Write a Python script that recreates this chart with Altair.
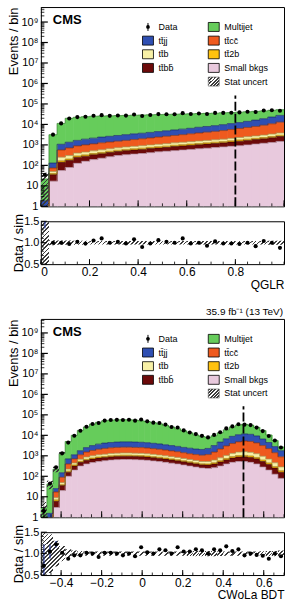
import numpy as np
import pandas as pd
import altair as alt

FONT = "Liberation Sans"
W = 244                      # plot width of every panel
H_TOP, H_BOT, H_RAT = 200, 199, 43
FLOOR = 0.5                  # lowest value drawn on the log axes

# processes in stacking order, bottom to top
STACK = ["small", "ttbb", "tt2b", "ttb", "ttcc", "ttjj", "multijet"]
FILL = {"small": "#e8c9dd", "ttbb": "#6c0a0a", "tt2b": "#ffc20f", "ttb": "#f7f0a6",
        "ttcc": "#ef5a1e", "ttjj": "#2f4fb2", "multijet": "#66cc5b"}
EDGE = {"small": "#b898ad", "ttbb": "#3a0000", "tt2b": "#9c7400", "ttb": "#a39a55",
        "ttcc": "#8c2e08", "ttjj": "#17276b", "multijet": "#2f7a2a"}
NAMES = {"small": "Small bkgs", "ttbb": "tt\u0304bb\u0304", "tt2b": "tt\u03042b",
         "ttb": "tt\u0304b", "ttcc": "tt\u0304cc\u0304", "ttjj": "tt\u0304jj",
         "multijet": "Multijet"}

# ---------------- QGLR: 30 bins on [0, 1] ----------------
qglr_edges = np.linspace(0.0, 1.0, 31)
qglr_small = [0.3, 17, 56, 79, 126, 158, 191, 224, 263, 302, 331, 355, 380, 417, 457,
              490, 525, 562, 603, 646, 692, 741, 794, 851, 912, 1000, 1096, 1202, 1318, 1479]
qglr_ttbb = [0.1, 18, 85, 99, 125, 124, 140, 148, 164, 177, 194, 207, 223, 244, 251,
             269, 307, 329, 352, 377, 404, 434, 465, 529, 602, 660, 724, 793, 921, 1091]
qglr_tt2b = [0.05, 5, 25, 26, 37, 42, 49, 55, 63, 71, 78, 84, 89, 98, 105,
             112, 123, 132, 141, 152, 163, 174, 186, 205, 224, 245, 269, 296, 331, 381]
qglr_ttb = [0.1, 10, 85, 98, 110, 123, 133, 148, 156, 174, 191, 205, 220, 241, 259,
            277, 304, 326, 349, 374, 401, 429, 460, 504, 553, 607, 665, 729, 818, 880]
qglr_ttcc = [0.3, 24, 311, 406, 493, 553, 609, 684, 734, 790, 866, 969, 1083, 1188, 1327,
             1482, 1625, 1813, 2022, 2253, 2509, 2793, 3107, 3534, 4019, 4567, 5189, 6100, 7332, 9050]
qglr_ttjj = [1.0, 56, 510, 641, 769, 905, 1016, 1140, 1250, 1370, 1502, 1647, 1720, 1886, 2068,
             2268, 2486, 2726, 2990, 3442, 3774, 4139, 4760, 5337, 5990, 7051, 8277, 9930, 12190, 14660]
qglr_multijet = [20, 3030, 10150, 18600, 20730, 22090, 22980, 23300, 23670, 24040, 24380, 24710,
                 25120, 25440, 25730, 26000, 26250, 26470, 26650, 26640, 26730, 26770, 27380,
                 27060, 27510, 27560, 27430, 26660, 26070, 24940]
qglr_data = [35, 3160, 11220, 19350, 22840, 23510, 26380, 28270, 26300, 27460, 26990, 30430,
             25960, 28920, 32010, 31520, 31620, 35600, 32450, 33880, 32240, 36540, 36410,
             37260, 38620, 41690, 40160, 47540, 48980, 46180]
qglr_stat = [1.0, 0.06, 0.05, 0.05, 0.045, 0.045, 0.04, 0.04, 0.04, 0.04, 0.04, 0.04, 0.04, 0.04,
             0.04, 0.04, 0.04, 0.04, 0.04, 0.04, 0.04, 0.04, 0.04, 0.04, 0.04, 0.04, 0.04, 0.04,
             0.045, 0.045]
qglr_cut = 0.8

# ---------------- CWoLa BDT: 40 bins on [-0.5, 0.7] ----------------
bdt_edges = np.linspace(-0.5, 0.7, 41)
bdt_small = [0, 0.2, 3, 20, 100, 200, 316, 398, 468, 525, 575, 617, 646, 661, 661, 646, 631, 603,
             562, 525, 479, 437, 398, 355, 316, 282, 251, 240, 263, 316, 398, 479, 525, 525, 479,
             398, 282, 200, 126, 79]
bdt_ttbb = [0, 0.2, 3, 15, 58, 116, 163, 205, 224, 251, 257, 274, 287, 294, 294, 287, 281, 268,
            251, 234, 213, 194, 177, 158, 141, 125, 112, 115, 135, 185, 233, 297, 346, 366, 353,
            310, 243, 180, 125, 79]
bdt_tt2b = [0, 0.05, 1, 4, 20, 39, 58, 73, 84, 95, 101, 109, 114, 117, 117, 114, 111, 106, 99, 92,
            84, 77, 71, 62, 56, 50, 44, 43, 59, 74, 110, 136, 152, 156, 145, 124, 92, 67, 44, 28]
bdt_ttb = [0, 0.1, 2, 10, 46, 92, 139, 195, 224, 251, 269, 288, 302, 308, 308, 302, 295, 282, 263,
           245, 224, 204, 186, 166, 148, 132, 118, 127, 160, 219, 306, 406, 491, 538, 502, 427,
           338, 245, 162, 102]
bdt_ttcc = [0, 0.4, 8, 40, 174, 261, 446, 643, 820, 967, 1089, 1167, 1221, 1250, 1250, 1221, 1194,
            1140, 1064, 993, 905, 826, 753, 672, 598, 559, 547, 623, 897, 1344, 1973, 2663, 3272,
            3663, 3533, 3007, 2207, 1547, 956, 603]
bdt_ttjj = [0.2, 0.6, 8, 60, 310, 414, 656, 998, 1342, 1626, 1878, 2012, 2107, 2156, 2156, 2107,
            2059, 1966, 1835, 1713, 1562, 1424, 1299, 1157, 1085, 990, 970, 1143, 1648, 2539,
            3741, 4932, 5934, 6502, 6208, 5067, 3445, 2228, 1405, 887]
bdt_multijet = [2.6, 40.5, 199, 1141, 4302, 8878, 15600, 23190, 32320, 39940, 47120, 50480, 52210,
                53420, 52750, 50910, 46720, 42400, 37620, 32510, 27430, 22540, 18010, 14030,
                10840, 8332, 6668, 5652, 6388, 8503, 11860, 16790, 20900, 22920, 20400, 15220,
                10370, 6003, 2805, 914]
bdt_data = [2.0, 44, 273, 1316, 4409, 9600, 16680, 26210, 35480, 40160, 52320, 56050, 56890, 55880,
            57540, 52250, 58980, 48170, 41690, 39940, 33370, 25700, 24020, 17430, 13840, 11520,
            9407, 7943, 10500, 14230, 21790, 27240, 34780, 33280, 31620, 23810, 16130, 9214,
            5623, 2530]
bdt_stat = [1.0, 0.45, 0.3, 0.18, 0.1, 0.07, 0.06, 0.05, 0.05, 0.05, 0.05, 0.05, 0.05, 0.05, 0.05,
            0.05, 0.05, 0.05, 0.05, 0.05, 0.05, 0.05, 0.05, 0.05, 0.055, 0.06, 0.06, 0.06, 0.06,
            0.055, 0.05, 0.05, 0.05, 0.05, 0.05, 0.05, 0.055, 0.06, 0.06, 0.07]
bdt_cut = 0.5

LUMI = "35.9 fb\u207b\u00b9 (13 TeV)"
POW_LABELS = ["1", "10", "10\u00b2", "10\u00b3", "10\u2074", "10\u2075", "10\u2076",
              "10\u2077", "10\u2078", "10\u2079"]

one = pd.DataFrame({"k": [0]})


def hatch(w, h, period=3.0, duty=0.4, color="#3c3c3c"):
    """Diagonal '////' hatching for a w x h pixel box, as a striped linear gradient."""
    n = max(2, int(round((w + h) / (1.4142 * period))))
    lam = (w + h) / (w * w + h * h)
    clear = "rgba(255,255,255,0)"
    stops = []
    for k in range(n):
        a, b, e = k / n, (k + duty) / n, (k + 1) / n
        stops += [{"offset": a, "color": color}, {"offset": b, "color": color},
                  {"offset": b, "color": clear}, {"offset": e, "color": clear}]
    return {"gradient": "linear", "stops": stops, "x1": 0, "y1": 0,
            "x2": lam * w, "y2": lam * h}


def main_panel(edges, comps, data, stat, cut, xmajor, height, lumi):
    xdom = [float(edges[0]), float(edges[-1])]
    ymax = 10 ** (height / 20.55)
    ppd = height / np.log10(ymax)
    xs = alt.Scale(domain=xdom, nice=False, zero=False)
    ys = alt.Scale(type="log", domain=[1, ymax], nice=False)
    expr = "".join(f"datum.value < {3 * 10 ** k} ? '{lab}' : "
                   for k, lab in enumerate(POW_LABELS[:-1])) + f"'{POW_LABELS[-1]}'"
    yax = alt.Axis(values=[10 ** k for k in range(10)], labelExpr=expr, ticks=False,
                   domain=False, grid=False, labelFontSize=11, labelPadding=3, labelFont=FONT,
                   title="Events / bin", titleFont=FONT, titleFontSize=13,
                   titleFontWeight="normal", titleAnchor="end", titleX=-20)

    def X(f):
        return alt.X(f"{f}:Q", scale=xs, axis=None)

    def Y(f):
        return alt.Y(f"{f}:Q", scale=ys, axis=yax)

    centers = 0.5 * (edges[:-1] + edges[1:])
    nb = len(centers)
    seam = 0.6 * (xdom[1] - xdom[0]) / W   # small overlap so neighbouring bins join cleanly
    rects, steps = [], []
    cum = np.zeros(nb)
    for p in STACK:
        top = cum + np.asarray(comps[p], float)
        for i in range(nb):
            rects.append(dict(proc=p, x0=edges[i], x1=edges[i + 1] + seam,
                              y0=max(cum[i], FLOOR), y1=max(top[i], FLOOR)))
        for i in range(nb + 1):
            j = min(i, nb - 1)
            steps.append(dict(proc=p, x=edges[i], y1=max(top[j], FLOOR), o=i))
        cum = top
    total = cum

    fill_scale = alt.Scale(domain=STACK, range=[FILL[p] for p in STACK])
    edge_scale = alt.Scale(domain=STACK, range=[EDGE[p] for p in STACK])
    layers = [
        alt.Chart(pd.DataFrame(rects)).mark_rect(clip=True).encode(
            x=X("x0"), x2="x1", y=Y("y0"), y2="y1",
            fill=alt.Fill("proc:N", scale=fill_scale, legend=None)),
        alt.Chart(pd.DataFrame(steps)).mark_line(interpolate="step-after", strokeWidth=0.7,
                                                 clip=True).encode(
            x=X("x"), y=Y("y1"), order="o:Q",
            stroke=alt.Stroke("proc:N", scale=edge_scale, legend=None)),
    ]

    # MC statistical uncertainty, visible only where it is large
    bw = W / nb
    for i, u in enumerate(stat):
        if u < 0.15:
            continue
        lo, hi = max(total[i] * (1 - u), 1.0), total[i] * (1 + u)
        hpx = max((np.log10(hi) - np.log10(lo)) * ppd, 1.0)
        band = pd.DataFrame({"x0": [edges[i]], "x1": [edges[i + 1]], "lo": [lo], "hi": [hi]})
        layers.append(alt.Chart(band).mark_rect(fill=hatch(bw, hpx), clip=True).encode(
            x=X("x0"), x2="x1", y=Y("lo"), y2="hi"))

    # selection cut
    layers.append(alt.Chart(pd.DataFrame({"x": [cut], "a": [1.0], "b": [2.6e5]})).mark_rule(
        color="black", strokeWidth=1.8, strokeDash=[9, 3]).encode(x=X("x"), y=Y("a"), y2="b"))

    d = np.asarray(data, float)
    pts = pd.DataFrame({"x": centers, "y": d, "lo": np.maximum(d - np.sqrt(d), FLOOR),
                        "hi": d + np.sqrt(d)})
    layers.append(alt.Chart(pts).mark_rule(color="black", strokeWidth=1, clip=True).encode(
        x=X("x"), y=Y("lo"), y2="hi"))
    layers.append(alt.Chart(pts).mark_point(filled=True, size=17, color="black", opacity=1,
                                            clip=True).encode(x=X("x"), y=Y("y")))

    # inward ticks
    ymaj = pd.DataFrame({"v": [10 ** k for k in range(10)]})
    ymin = pd.DataFrame({"v": [m * 10 ** k for k in range(10) for m in range(2, 10)
                               if m * 10 ** k < ymax]})
    xmaj = pd.DataFrame({"v": xmajor})
    xmin = pd.DataFrame({"v": np.round(np.arange(xdom[0], xdom[1] + 1e-9, 0.05), 3)})
    layers += [
        alt.Chart(ymaj).mark_rule(color="black", strokeWidth=1.2).encode(
            y=Y("v"), x=alt.value(0), x2=alt.value(7)),
        alt.Chart(ymin).mark_rule(color="black", strokeWidth=0.8).encode(
            y=Y("v"), x=alt.value(0), x2=alt.value(3.5)),
        alt.Chart(xmaj).mark_rule(color="black", strokeWidth=1).encode(
            x=X("v"), y=alt.value(height), y2=alt.value(height - 6)),
        alt.Chart(xmin).mark_rule(color="black", strokeWidth=0.8).encode(
            x=X("v"), y=alt.value(height), y2=alt.value(height - 3)),
    ]

    layers.append(alt.Chart(one).mark_text(text="CMS", font=FONT, fontSize=13, fontWeight="bold",
                                           align="left", baseline="middle").encode(
        x=alt.value(12), y=alt.value(13.5)))
    if lumi:
        layers.append(alt.Chart(one).mark_text(text=lumi, font=FONT, fontSize=10, align="right",
                                               baseline="middle").encode(
            x=alt.value(W - 1), y=alt.value(-6.5)))

    # legend: two columns
    rows = [20, 33.7, 47.4, 61.1, 74.8]
    sw_x, tx_x = [102, 168], [118, 184]
    entries = [("data", 0, 0), ("multijet", 1, 0), ("ttjj", 0, 1), ("ttcc", 1, 1),
               ("ttb", 0, 2), ("tt2b", 1, 2), ("ttbb", 0, 3), ("small", 1, 3), ("stat", 1, 4)]
    for key, c, r in entries:
        yc = rows[r]
        if key == "data":
            layers.append(alt.Chart(one).mark_rule(color="black", strokeWidth=1).encode(
                x=alt.value(sw_x[c] + 5.5), y=alt.value(yc - 4), y2=alt.value(yc + 4)))
            layers.append(alt.Chart(one).mark_point(filled=True, size=14, color="black",
                                                    opacity=1).encode(
                x=alt.value(sw_x[c] + 5.5), y=alt.value(yc)))
            label = "Data"
        elif key == "stat":
            layers.append(alt.Chart(one).mark_rect(fill=hatch(11, 9, period=2.2, duty=0.55),
                                                   stroke="#555555", strokeWidth=0.6).encode(
                x=alt.value(sw_x[c]), x2=alt.value(sw_x[c] + 11),
                y=alt.value(yc - 4.5), y2=alt.value(yc + 4.5)))
            label = "Stat uncert"
        else:
            layers.append(alt.Chart(one).mark_rect(fill=FILL[key], stroke="black",
                                                   strokeWidth=0.8).encode(
                x=alt.value(sw_x[c]), x2=alt.value(sw_x[c] + 11),
                y=alt.value(yc - 4.5), y2=alt.value(yc + 4.5)))
            label = NAMES[key]
        layers.append(alt.Chart(one).mark_text(text=label, font=FONT, fontSize=9, align="left",
                                               baseline="middle").encode(
            x=alt.value(tx_x[c]), y=alt.value(yc)))

    return alt.layer(*layers).properties(width=W, height=height), total


def ratio_panel(edges, data, total, stat, xmajor, xtitle):
    xdom = [float(edges[0]), float(edges[-1])]
    xs = alt.Scale(domain=xdom, nice=False, zero=False)
    ys = alt.Scale(domain=[0.5, 1.5], nice=False, zero=False)
    xax = alt.Axis(values=xmajor, labelExpr="datum.value == 0 ? '0' : format(datum.value, '.1f')",
                   ticks=False, domain=False, grid=False, labelFontSize=12, labelFont=FONT,
                   labelPadding=2, title=xtitle, titleFont=FONT, titleFontSize=12,
                   titleFontWeight="normal", titleAnchor="end", titlePadding=2)
    yax = alt.Axis(values=[0.5, 1.0, 1.5], format=".1f", ticks=False, domain=False, grid=False,
                   labelFontSize=11, labelFont=FONT, labelPadding=2, title="Data / sim",
                   titleFont=FONT, titleFontSize=13, titleFontWeight="normal", titleX=-15)

    def X(f):
        return alt.X(f"{f}:Q", scale=xs, axis=xax)

    def Y(f):
        return alt.Y(f"{f}:Q", scale=ys, axis=yax)

    centers = 0.5 * (edges[:-1] + edges[1:])
    bw = W / (len(edges) - 1)
    layers = []
    u = np.minimum(np.asarray(stat, float), 0.5)
    for val in sorted(set(u.tolist())):
        idx = np.where(u == val)[0]
        band = pd.DataFrame({"x0": edges[idx], "x1": edges[idx + 1],
                             "lo": 1 - u[idx], "hi": 1 + u[idx]})
        layers.append(alt.Chart(band).mark_rect(fill=hatch(bw, 2 * val * H_RAT), clip=True).encode(
            x=X("x0"), x2="x1", y=Y("lo"), y2="hi"))

    d = np.asarray(data, float)
    r = d / total
    e = r / np.sqrt(d)
    pts = pd.DataFrame({"x": centers, "r": r, "lo": r - e, "hi": r + e})
    layers.append(alt.Chart(pts).mark_rule(color="#2b3d9c", strokeWidth=1.2, clip=True).encode(
        x=X("x"), y=Y("lo"), y2="hi"))
    layers.append(alt.Chart(pts).mark_point(filled=True, size=17, color="black", opacity=1,
                                            clip=True).encode(x=X("x"), y=Y("r")))

    ymaj = pd.DataFrame({"v": [0.5, 1.0, 1.5]})
    ymin = pd.DataFrame({"v": np.round(np.arange(0.6, 1.45, 0.1), 2)})
    xmaj = pd.DataFrame({"v": xmajor})
    xmin = pd.DataFrame({"v": np.round(np.arange(xdom[0], xdom[1] + 1e-9, 0.05), 3)})
    layers += [
        alt.Chart(ymaj).mark_rule(color="black", strokeWidth=1).encode(
            y=Y("v"), x=alt.value(0), x2=alt.value(6)),
        alt.Chart(ymin).mark_rule(color="black", strokeWidth=0.8).encode(
            y=Y("v"), x=alt.value(0), x2=alt.value(3)),
        alt.Chart(xmaj).mark_rule(color="black", strokeWidth=1).encode(
            x=X("v"), y=alt.value(H_RAT), y2=alt.value(H_RAT - 5)),
        alt.Chart(xmin).mark_rule(color="black", strokeWidth=0.8).encode(
            x=X("v"), y=alt.value(H_RAT), y2=alt.value(H_RAT - 2.5)),
    ]
    return alt.layer(*layers).properties(width=W, height=H_RAT)


q_comps = {"small": qglr_small, "ttbb": qglr_ttbb, "tt2b": qglr_tt2b, "ttb": qglr_ttb,
           "ttcc": qglr_ttcc, "ttjj": qglr_ttjj, "multijet": qglr_multijet}
b_comps = {"small": bdt_small, "ttbb": bdt_ttbb, "tt2b": bdt_tt2b, "ttb": bdt_ttb,
           "ttcc": bdt_ttcc, "ttjj": bdt_ttjj, "multijet": bdt_multijet}

q_main, q_total = main_panel(qglr_edges, q_comps, qglr_data, qglr_stat, qglr_cut,
                             [0.0, 0.2, 0.4, 0.6, 0.8, 1.0], H_TOP, None)
q_ratio = ratio_panel(qglr_edges, qglr_data, q_total, qglr_stat, [0.0, 0.2, 0.4, 0.6, 0.8], "QGLR")

b_main, b_total = main_panel(bdt_edges, b_comps, bdt_data, bdt_stat, bdt_cut,
                             [-0.4, -0.2, 0.0, 0.2, 0.4, 0.6], H_BOT, LUMI)
b_ratio = ratio_panel(bdt_edges, bdt_data, b_total, bdt_stat,
                      [-0.4, -0.2, 0.0, 0.2, 0.4, 0.6], "CWoLa BDT")

gap = alt.Chart(one).mark_point(opacity=0).encode(
    x=alt.value(0), y=alt.value(0)).properties(
    width=W, height=25, view=alt.ViewBackground(stroke="transparent"))

chart = alt.vconcat(q_main, q_ratio, gap, b_main, b_ratio, spacing=15, bounds="flush",
                    padding={"left": 7, "top": 5, "right": 0, "bottom": 0}).configure_view(
    stroke="black", strokeWidth=1).configure_axis(labelColor="black", titleColor="black")

chart.save("out.html", embed_options={"renderer": "svg", "actions": False})
